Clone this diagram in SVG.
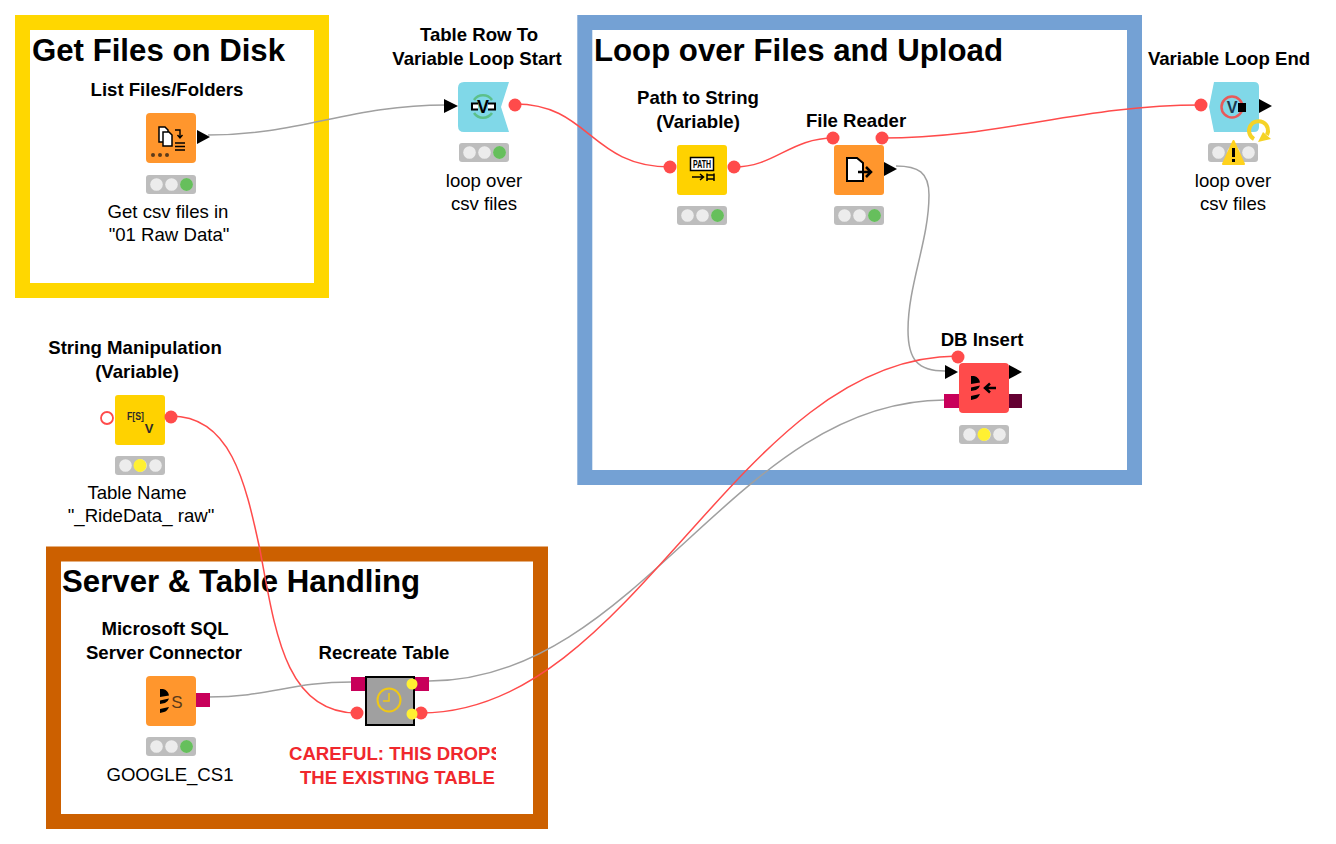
<svg xmlns="http://www.w3.org/2000/svg" width="1336" height="844" viewBox="0 0 1336 844">
<style>
text{font-family:"Liberation Sans",Arial,sans-serif;fill:#000}
.t{font-size:31.200px;font-weight:700}
.n{font-size:18.600px;font-weight:700;text-anchor:middle}
.l{font-size:18.600px;text-anchor:middle}
.c{font-size:18.600px;font-weight:700;fill:#f0282d}
.f{fill:#fff;stroke-width:15}
.r{fill:none;stroke:#ff4b4b;stroke-width:1.5}
.g{fill:none;stroke:#a0a0a0;stroke-width:1.5}
.p{fill:#ff4b4b}
.o{fill:#ff962d}.y{fill:#ffd200}.b{fill:#80d8e8}
.s{fill:#bdbdbd}.off{fill:#ececec}.gr{fill:#66bf5c}.ye{fill:#fff032}
.k{fill:#000}.m{fill:#c8005a}
</style>
<defs>
<g id="st"><rect x="0" y="0" width="50" height="19" rx="3" class="s"/><circle cx="10.500" cy="9.500" r="6.300" class="off"/><circle cx="25.500" cy="9.500" r="6.300" class="off"/><circle cx="40.500" cy="9.500" r="6.300" class="off"/></g>
<g id="db"><path d="M0 0h3q5 1 6 6.500l-9 1.500zM0 11.500l9-2q-1 3.500-4 4.500l-5 1zM0 20l9-2q-2 4.500-5 5l-4 1z" fill="#000"/></g>
<clipPath id="cl"><rect x="270" y="740" width="226" height="50"/></clipPath>
</defs>

<g id="frame-get-files"><rect x="22.500" y="22.500" width="299" height="268" class="f" stroke="#ffd700"/><text x="32" y="61" class="t">Get Files on Disk</text></g>
<g id="frame-loop"><rect x="584.800" y="22.500" width="549.700" height="455" class="f" stroke="#74a1d4"/><text x="594" y="61" class="t">Loop over Files and Upload</text></g>
<g id="frame-server"><rect x="53.500" y="554" width="487" height="267.500" class="f" stroke="#cc6000"/><text x="62" y="592" class="t">Server &amp; Table Handling</text></g>

<g id="connectors">
<path class="g" d="M208 135C300 135 350 105 446 105"/>
<path class="r" d="M515 104C590 104 590 167 671 167"/>
<path class="r" d="M734 167C775 167 790 138 834 138"/>
<path class="r" d="M882 138C1000 138 1080 105 1201 105"/>
<path class="g" d="M896 166C918 166 929 172 929 195C929 240 908 285 908 330C908 360 918 371 945 371"/>
<path class="r" d="M171 416C230 416 245 480 260 550C275 630 285 713 357 713"/>
<path class="g" d="M208 697C270 697 290 682 352 682"/>
<path class="g" d="M429 681C639 681 735 400 945 400"/>
<path class="r" d="M421 713C636 713 737 356 958 356"/>
</g>

<g id="list-files">
<text class="n" x="167" y="96">List Files/Folders</text>
<rect x="146" y="113" width="50" height="50" rx="4" class="o"/>
<path d="M159 127h6l3 3v12h-9z" fill="#fff" stroke="#000" stroke-width="1.500"/><path d="M163 132h6l3 3v11h-9z" fill="#fff" stroke="#000" stroke-width="1.500"/>
<path d="M175 130h5v7M177.500 135l2.500 3 2.500-3" fill="none" stroke="#000" stroke-width="1.400"/><path d="M175 143h10M175 146.500h10M175 150h10" stroke="#000" stroke-width="1.400"/>
<circle cx="153" cy="155" r="2" fill="#5a3a1a"/><circle cx="160" cy="155" r="2" fill="#5a3a1a"/><circle cx="167" cy="155" r="2" fill="#5a3a1a"/>
<path d="M197 130l13 7-13 7z" class="k"/>
<use href="#st" x="146" y="175"/><circle cx="186.500" cy="184.500" r="6.500" class="gr"/>
<text class="l" x="168" y="218">Get csv files in</text><text class="l" x="169" y="241">"01 Raw Data"</text>
</g>

<g id="table-row-start">
<text class="n" x="479" y="41">Table Row To</text><text class="n" x="477" y="65">Variable Loop Start</text>
<path d="M458 88q0-6 6-6h45l-8 25 8 25h-45q-6 0-6-6z" class="b"/>
<path d="M444 99l14 7-14 7z" class="k"/>
<path d="M474 100a11 11 0 0 1 18 0M492 113a11 11 0 0 1-18 0" fill="none" stroke="#5cc08a" stroke-width="2.500"/>
<path d="M478 103.500h-6v6h6M488 103.500h7v6h-7" fill="#fff" stroke="#000" stroke-width="2"/>
<text x="483" y="113" font-size="18" font-weight="700" text-anchor="middle">V</text>
<circle cx="515" cy="105" r="6.500" class="p"/>
<use href="#st" x="459" y="143"/><circle cx="499.500" cy="152.500" r="6.500" class="gr"/>
<text class="l" x="484" y="187">loop over</text><text class="l" x="484" y="210">csv files</text>
</g>

<g id="path-to-string">
<text class="n" x="698" y="104">Path to String</text><text class="n" x="698" y="128">(Variable)</text>
<rect x="677" y="145" width="50" height="50" rx="3" class="y"/>
<rect x="690.500" y="157.500" width="23" height="13" fill="#fff" stroke="#000" stroke-width="1.500"/>
<text x="702" y="168" font-size="11" font-weight="700" text-anchor="middle" textLength="18" lengthAdjust="spacingAndGlyphs">PATH</text>
<path d="M692 177h11M700 174l3.500 3-3.500 3M707 173.500v7.500M714 173.500v7.500M707 175h7M707 179h7" fill="none" stroke="#000" stroke-width="1.500"/>
<circle cx="670" cy="167" r="6.500" class="p"/><circle cx="734" cy="167" r="6.500" class="p"/>
<use href="#st" x="677" y="206"/><circle cx="717.500" cy="215.500" r="6.500" class="gr"/>
</g>

<g id="file-reader">
<text class="n" x="856" y="127">File Reader</text>
<rect x="834" y="145" width="50" height="50" rx="3" class="o"/>
<path d="M847 158h10l6 5v18h-16z" fill="#fff" stroke="#000" stroke-width="2"/>
<path d="M858 172h13M866 167l5 5-5 5" fill="none" stroke="#000" stroke-width="2.500"/>
<circle cx="833" cy="138" r="6.500" class="p"/><circle cx="882" cy="138" r="6.500" class="p"/>
<path d="M884 162l13 7-13 7z" class="k"/>
<use href="#st" x="834" y="206"/><circle cx="874.500" cy="215.500" r="6.500" class="gr"/>
</g>

<g id="variable-loop-end">
<text class="n" x="1229" y="65">Variable Loop End</text>
<path d="M1214 82h40q5 0 5 5v40q0 5-5 5h-40l-5-25z" class="b"/>
<circle cx="1232" cy="107" r="10.500" fill="none" stroke="#e85a5a" stroke-width="2.500"/>
<text x="1232" y="113" font-size="16" font-weight="700" text-anchor="middle" style="fill:#1a3a50">V</text>
<rect x="1238" y="103" width="8" height="9" class="k"/>
<circle cx="1201" cy="105" r="6.500" class="p"/>
<path d="M1259 99l13 7-13 7z" class="k"/>
<use href="#st" x="1208" y="143"/>
<path d="M1254 139A9.500 9.500 0 1 1 1267 135" fill="none" stroke="#f5d327" stroke-width="4"/><path d="M1258 142l13-3-8-7z" fill="#f5d327"/>
<path d="M1233.500 141l10.500 23h-21z" fill="#ffd21e" stroke="#ffd21e" stroke-width="2" stroke-linejoin="round"/>
<rect x="1232" y="148" width="3" height="9" class="k"/><rect x="1232" y="159" width="3" height="3" class="k"/>
<text class="l" x="1233" y="187">loop over</text><text class="l" x="1233" y="210">csv files</text>
</g>

<g id="db-insert">
<text class="n" x="982" y="346">DB Insert</text>
<rect x="944" y="394" width="16" height="14" class="m"/><rect x="1008" y="394" width="14" height="14" fill="#640032"/>
<rect x="959" y="363" width="50" height="50" rx="4" class="p"/>
<path d="M945 365l13 7-13 7z" class="k"/><path d="M1009 365l13 7-13 7z" class="k"/>
<circle cx="958" cy="357" r="6.500" class="p"/>
<use href="#db" x="971" y="376"/>
<path d="M985 388h11M990 383.500l-5 4.500 5 4.500" fill="none" stroke="#000" stroke-width="2.500"/>
<use href="#st" x="959" y="425"/><circle cx="984" cy="434.500" r="6.500" class="ye"/>
</g>

<g id="string-manipulation">
<text class="n" x="135" y="354">String Manipulation</text><text class="n" x="137" y="378">(Variable)</text>
<rect x="115" y="395" width="50" height="50" rx="3" class="y"/>
<text x="135.500" y="419.500" font-size="11" font-weight="700" text-anchor="middle" textLength="17" lengthAdjust="spacingAndGlyphs" style="fill:#2b2b2b">F[S]</text>
<text x="149" y="433" font-size="13" font-weight="700" text-anchor="middle" style="fill:#2b2b2b">V</text>
<circle cx="107" cy="418" r="6" fill="#fff" stroke="#ff4b4b" stroke-width="1.800"/><circle cx="171" cy="417" r="6.500" class="p"/>
<use href="#st" x="115" y="456"/><circle cx="140" cy="465.500" r="6.500" class="ye"/>
<text class="l" x="137" y="499">Table Name</text><text class="l" x="141" y="522">"_RideData_ raw"</text>
</g>

<g id="sql-connector">
<text class="n" x="165" y="635">Microsoft SQL</text><text class="n" x="164" y="659">Server Connector</text>
<rect x="146" y="676" width="50" height="50" rx="4" class="o"/>
<use href="#db" x="160" y="689"/>
<text x="177" y="708" font-size="17" text-anchor="middle" style="fill:#5a3a1a">S</text>
<rect x="196" y="693" width="14" height="14" class="m"/>
<use href="#st" x="146" y="737"/><circle cx="186.500" cy="746.500" r="6.500" class="gr"/>
<text class="l" x="170" y="781">GOOGLE_CS1</text>
</g>

<g id="recreate-table">
<text class="n" x="384" y="659">Recreate Table</text>
<rect x="351" y="677" width="15" height="14" class="m"/><rect x="414" y="677" width="15" height="14" class="m"/>
<rect x="366" y="677" width="48" height="48" fill="#a0a0a0" stroke="#000" stroke-width="2"/>
<circle cx="389" cy="700" r="11.500" fill="none" stroke="#f0c814" stroke-width="2"/><path d="M389 693v8h-6" fill="none" stroke="#f0c814" stroke-width="1.500"/>
<circle cx="357" cy="713" r="6.500" class="p"/><circle cx="421" cy="713" r="6.500" class="p"/>
<circle cx="412" cy="684" r="5.500" class="ye"/><circle cx="412" cy="714" r="5.500" class="ye"/>
<g clip-path="url(#cl)"><text class="c" x="289" y="760">CAREFUL: THIS DROPS</text><text class="c" x="300" y="784">THE EXISTING TABLE</text></g>
</g>
</svg>
